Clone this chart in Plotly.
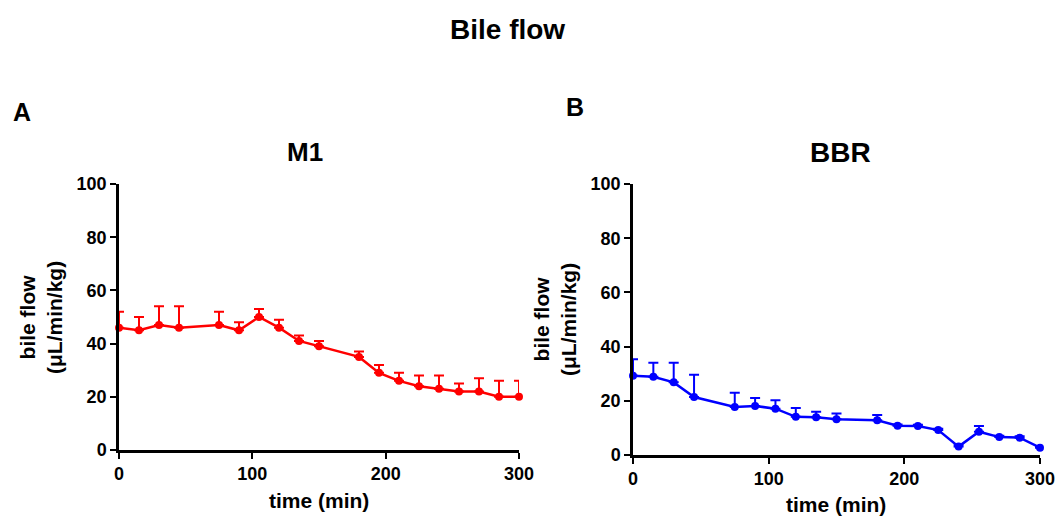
import plotly.graph_objects as go

time_min = [0, 15, 30, 45, 75, 90, 105, 120, 135, 150, 180, 195, 210, 225, 240, 255, 270, 285, 300]

m1_mean = [46, 45, 47, 46, 47, 45, 50, 46, 41, 39, 35, 29, 26, 24, 23, 22, 22, 20, 20]
m1_err = [6, 5, 7, 8, 5, 3, 3, 3, 2, 2, 2, 3, 3, 4, 5, 3, 5, 6, 6]

bbr_mean = [29.2, 28.9, 26.8, 21.4, 17.7, 18.1, 17.1, 14.1, 13.9, 13.2, 12.8, 10.8, 10.7, 9.2, 3.1, 8.6, 6.6, 6.4, 2.7]
bbr_err = [6.1, 5.1, 7.2, 8.2, 5.3, 2.9, 3.1, 3.2, 2.1, 2.1, 2.0, 0.5, 0.5, 0.5, 0.5, 2.1, 0.5, 0.5, 0.5]

x_ticks = [0, 100, 200, 300]
y_ticks = [0, 20, 40, 60, 80, 100]

W, H = 1057, 518
FONT = "Liberation Sans"

def px_x(p):
    return p / W

def px_y(p):
    return 1 - p / H

fig = go.Figure()

def add_series(x, y, err, color, xa, ya):
    fig.add_trace(go.Scatter(
        x=x, y=y, mode="lines+markers",
        line=dict(color=color, width=2.5),
        marker=dict(color=color, size=8),
        error_y=dict(type="data", array=err, arrayminus=[0] * len(err),
                     symmetric=False, color=color, thickness=2, width=5),
        xaxis=xa, yaxis=ya, cliponaxis=False, showlegend=False,
    ))

add_series(time_min, m1_mean, m1_err, "#FF0000", "x", "y")
add_series(time_min, bbr_mean, bbr_err, "#0000FF", "x2", "y2")

axis_common = dict(
    showgrid=False, zeroline=False, showline=True, linecolor="black", linewidth=2.5,
    ticks="outside", ticklen=6, tickwidth=2, tickcolor="black", automargin=False,
    tickfont=dict(family=FONT, size=18, color="black", weight="bold"),
)

fig.update_layout(
    template="none",
    width=W, height=H,
    margin=dict(l=0, r=0, t=0, b=0, pad=0),
    paper_bgcolor="white", plot_bgcolor="white",
    xaxis=dict(domain=[px_x(119), px_x(519)], range=[0, 300], tickvals=x_ticks,
               anchor="y", **axis_common),
    yaxis=dict(domain=[px_y(450), px_y(184)], range=[0, 100], tickvals=y_ticks,
               anchor="x", **axis_common),
    xaxis2=dict(domain=[px_x(633), px_x(1040)], range=[0, 300], tickvals=x_ticks,
                anchor="y2", **axis_common),
    yaxis2=dict(domain=[px_y(455), px_y(184)], range=[0, 100], tickvals=y_ticks,
                anchor="x2", **axis_common),
)

def ann(text, xp, yp, size, angle=0):
    fig.add_annotation(text=text, x=px_x(xp), y=px_y(yp), xref="paper", yref="paper",
                       showarrow=False, textangle=angle, xanchor="center", yanchor="middle",
                       font=dict(family=FONT, size=size, color="black", weight="bold"))

ann("Bile flow", 507, 29, 28)
ann("A", 22, 112, 25)
ann("B", 575, 107, 25)
ann("M1", 305, 152, 26)
ann("BBR", 840, 152, 28)
ann("bile flow<br>(μL/min/kg)", 41, 318, 21, -90)
ann("bile flow<br>(μL/min/kg)", 555, 320, 21, -90)
ann("time (min)", 319, 500, 21)
ann("time (min)", 836, 504, 21)

fig.write_html(
    "out.html",
    config={"displayModeBar": False},
    post_script="document.body.style.margin='0';document.body.style.overflow='hidden';",
)
